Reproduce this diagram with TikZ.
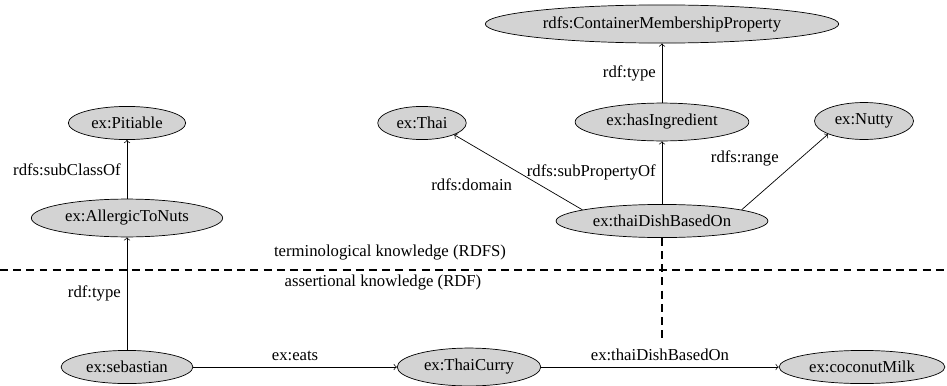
\documentclass[tikz,border=0pt]{standalone}
\usepackage{fontspec}
\setmainfont{Liberation Serif}
\usepackage{tikz}
\usetikzlibrary{shapes.geometric}

\begin{document}
\begin{tikzpicture}[font=\fontsize{9.5pt}{11pt}\selectfont,
  res/.style={ellipse, draw, fill={rgb,255:red,211;green,211;blue,211}, inner sep=0.33em},
  rel/.style={->},
  sep/.style={line width=1.5pt, dash pattern=on 4.5pt off 3pt}]
\useasboundingbox (0,0) rectangle (18.94,7.7);

\node[res] (pitiable) at (2.54,5.24) {ex:Pitiable};
\node[res] (allergic) at (2.54,3.34) {ex:AllergicToNuts};
\node[res] (sebastian) at (2.54,0.36) {ex:sebastian};
\node[res] (curry) at (9.38,0.36) {ex:ThaiCurry};
\node[res] (milk) at (17.24,0.36) {ex:coconutMilk};
\node[res] (based) at (13.24,3.28) {ex:thaiDishBasedOn};
\node[res] (ingredient) at (13.24,5.26) {ex:hasIngredient};
\node[res] (thai) at (8.44,5.24) {ex:Thai};
\node[res] (nutty) at (17.28,5.28) {ex:Nutty};
\node[res] (cmp) at (13.24,7.22) {rdfs:ContainerMembershipProperty};

\draw[rel] (allergic) -- (pitiable) node[midway, left] {rdfs:subClassOf};
\draw[rel] (sebastian) -- (allergic) node[midway, left] {rdf:type};
\draw[rel] (sebastian) -- (curry) node[midway, above] {ex:eats};
\draw[rel] (curry) -- (milk) node[midway, above] {ex:thaiDishBasedOn};
\draw[rel] (ingredient) -- (cmp) node[midway, left] {rdf:type};
\draw[rel] (based) -- (ingredient) node[midway, left] {rdfs:subPropertyOf};
\draw[rel] (based.172) -- (thai.-20) node[midway, below left] {rdfs:domain};
\draw[rel] (based.8) -- (nutty.200) node[midway, above left] {rdfs:range};

\coordinate (split left) at (0,2.3);
\coordinate (split right) at (18.94,2.3);
\coordinate (based end) at (13.24,0.84);
\draw[sep] (split left) -- (split right);
\draw[sep] (based) -- (based end);

\node (tbox) at (7.8,2.64) {terminological knowledge (RDFS)};
\node (abox) at (7.66,2.04) {assertional knowledge (RDF)};
\end{tikzpicture}
\end{document}
